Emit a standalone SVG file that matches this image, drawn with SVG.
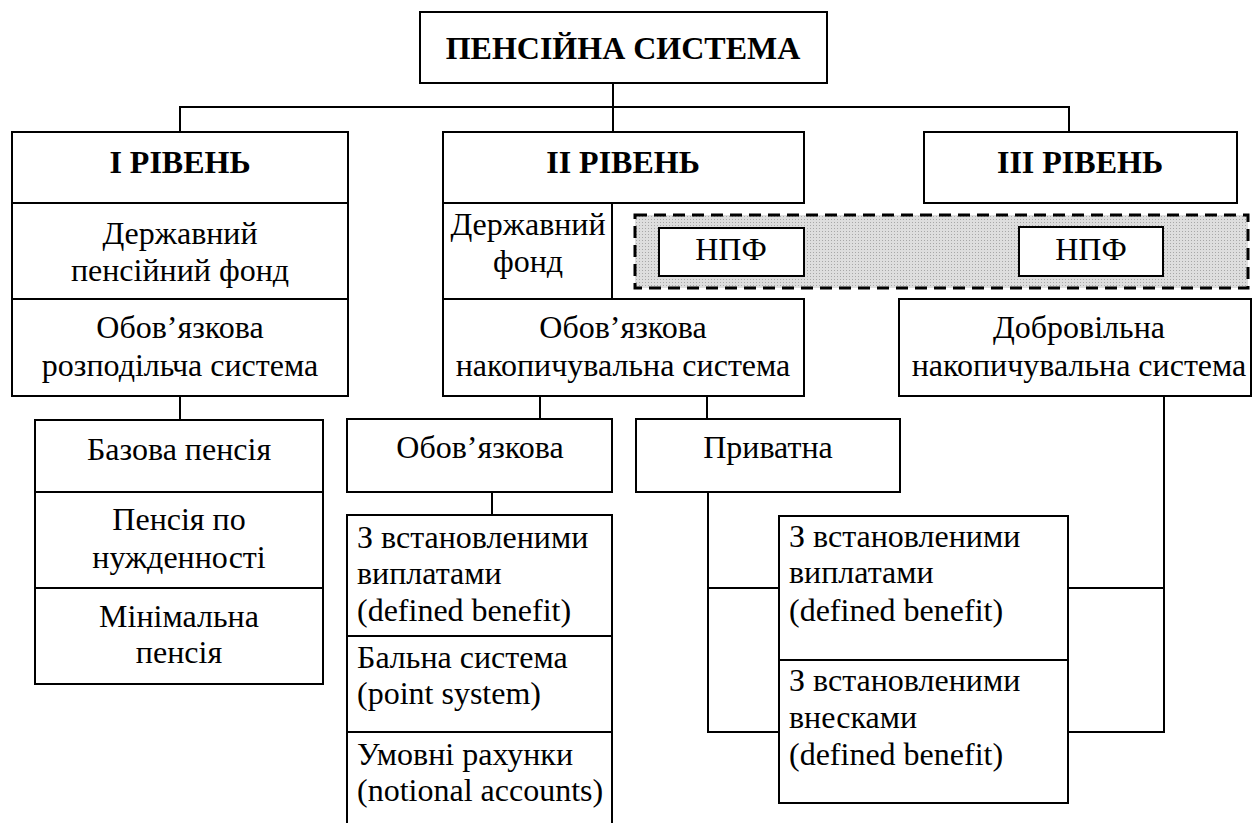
<svg xmlns="http://www.w3.org/2000/svg" width="1252" height="823" viewBox="0 0 1252 823">
<style>
.box{fill:#ffffff;stroke:#000000;stroke-width:2}
.ln{fill:none;stroke:#000000;stroke-width:2}
.npf-area{fill:url(#dots);stroke:#000000;stroke-width:3;stroke-dasharray:12,7}
text{font-family:'Liberation Serif','Times New Roman',serif;font-size:32px;fill:#000000}
.b{font-weight:bold}
.c{text-anchor:middle}
</style>
<defs>
<pattern id="dots" width="3" height="3" patternUnits="userSpaceOnUse">
<rect width="3" height="3" fill="#dedede"/>
<rect width="1" height="1" fill="#a8a8a8"/>
</pattern>
</defs>
<rect width="1252" height="823" fill="#ffffff"/>

<g id="connectors">
<path class="ln" d="M613 83 V132"/>
<path class="ln" d="M180 132 V107 H1069 V132"/>
<path class="ln" d="M180 396 V420"/>
<path class="ln" d="M540 396 V419"/>
<path class="ln" d="M707 396 V419"/>
<path class="ln" d="M492 492 V515"/>
<path class="ln" d="M708 492 V732 H779 M708 588 H779"/>
<path class="ln" d="M1164 396 V732 H1068 M1164 588 H1068"/>
</g>

<g id="pension-system">
<rect class="box" x="420" y="12" width="407" height="71"/>
<text class="b c" x="623" y="59">ПЕНСІЙНА СИСТЕМА</text>
</g>

<g id="level-1">
<rect class="box" x="12" y="132" width="336" height="71"/>
<text class="b c" x="180" y="173">І РІВЕНЬ</text>
</g>
<g id="level-2">
<rect class="box" x="443" y="132" width="361" height="71"/>
<text class="b c" x="623" y="173">ІІ РІВЕНЬ</text>
</g>
<g id="level-3">
<rect class="box" x="924" y="132" width="313" height="71"/>
<text class="b c" x="1080" y="173">ІІІ РІВЕНЬ</text>
</g>

<g id="state-pension-fund">
<rect class="box" x="12" y="203" width="336" height="96"/>
<text class="c" x="180" y="244">Державний</text>
<text class="c" x="180" y="281">пенсійний фонд</text>
</g>
<g id="mandatory-paygo">
<rect class="box" x="12" y="299" width="336" height="97"/>
<text class="c" x="180" y="338">Обов’язкова</text>
<text class="c" x="180" y="376">розподільча система</text>
</g>

<g id="basic-pension">
<rect class="box" x="35" y="420" width="288" height="72"/>
<text class="c" x="179" y="460">Базова пенсія</text>
</g>
<g id="means-tested-pension">
<rect class="box" x="35" y="492" width="288" height="96"/>
<text class="c" x="179" y="530">Пенсія по</text>
<text class="c" x="179" y="568">нужденності</text>
</g>
<g id="minimum-pension">
<rect class="box" x="35" y="588" width="288" height="96"/>
<text class="c" x="179" y="627">Мінімальна</text>
<text class="c" x="179" y="663">пенсія</text>
</g>

<g id="state-fund">
<rect class="box" x="443" y="203" width="169" height="96"/>
<text class="c" x="528" y="235">Державний</text>
<text class="c" x="528" y="272">фонд</text>
</g>

<g id="npf-region">
<rect class="npf-area" x="635" y="215" width="613" height="73"/>
</g>
<g id="npf-1">
<rect class="box" x="659" y="228" width="145" height="48"/>
<text class="c" x="731" y="260">НПФ</text>
</g>
<g id="npf-2">
<rect class="box" x="1019" y="227" width="144" height="49"/>
<text class="c" x="1091" y="260">НПФ</text>
</g>

<g id="mandatory-funded">
<rect class="box" x="443" y="299" width="361" height="97"/>
<text class="c" x="623" y="338">Обов’язкова</text>
<text class="c" x="623" y="376">накопичувальна система</text>
</g>
<g id="voluntary-funded">
<rect class="box" x="899" y="299" width="352" height="97"/>
<text class="c" x="1079" y="338">Добровільна</text>
<text class="c" x="1079" y="376">накопичувальна система</text>
</g>

<g id="mandatory">
<rect class="box" x="347" y="419" width="265" height="73"/>
<text class="c" x="480" y="458">Обов’язкова</text>
</g>
<g id="private">
<rect class="box" x="636" y="419" width="264" height="73"/>
<text class="c" x="768" y="458">Приватна</text>
</g>

<g id="defined-benefit-mandatory">
<rect class="box" x="347" y="515" width="265" height="121"/>
<text x="357" y="548">З встановленими</text>
<text x="357" y="584">виплатами</text>
<text x="357" y="621">(defined benefit)</text>
</g>
<g id="point-system">
<rect class="box" x="347" y="636" width="265" height="96"/>
<text x="357" y="668">Бальна система</text>
<text x="357" y="704">(point system)</text>
</g>
<g id="notional-accounts">
<rect class="box" x="347" y="732" width="265" height="110"/>
<text x="357" y="765">Умовні рахунки</text>
<text x="357" y="801">(notional accounts)</text>
</g>

<g id="defined-benefit-private">
<rect class="box" x="779" y="516" width="289" height="144"/>
<text x="789" y="547">З встановленими</text>
<text x="789" y="583">виплатами</text>
<text x="789" y="621">(defined benefit)</text>
</g>
<g id="defined-contribution-private">
<rect class="box" x="779" y="660" width="289" height="143"/>
<text x="789" y="691">З встановленими</text>
<text x="789" y="728">внесками</text>
<text x="789" y="765">(defined benefit)</text>
</g>
</svg>
